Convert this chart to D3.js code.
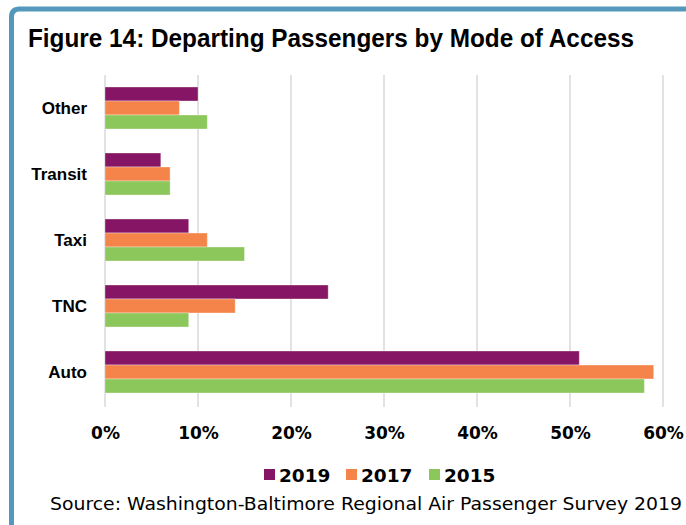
<!DOCTYPE html>
<html>
<head>
<meta charset="utf-8">
<script src="https://cdn.jsdelivr.net/npm/d3@7"></script>
<style>
  html, body { margin: 0; padding: 0; background: #ffffff; }
  svg { display: block; }
</style>
</head>
<body>
<svg id="chart" width="686" height="525"></svg>
<script>
// Modes of access, top to bottom
const categories = ["Other", "Transit", "Taxi", "TNC", "Auto"];
const seriesNames = ["2019", "2017", "2015"];
// Share of departing passengers (%) per mode
const values2019 = [10, 6, 9, 24, 51];
const values2017 = [8, 7, 11, 14, 59];
const values2015 = [11, 7, 15, 9, 58];
const tickValues = [0, 10, 20, 30, 40, 50, 60];
const colors = ["#861565", "#F5844A", "#8CC75B"];

const titleText = "Figure 14: Departing Passengers by Mode of Access";
const sourceText = "Source: Washington-Baltimore Regional Air Passenger Survey 2019";

const series = [values2019, values2017, values2015];
const rows = categories.map((c, i) => ({
  category: c,
  vals: seriesNames.map((s, k) => ({ key: s, value: series[k][i], color: colors[k] }))
}));

const svg = d3.select("#chart");

// Frame with rounded top-left corner
svg.append("path")
  .attr("d", "M11.5,525 L11.5,17 Q11.5,9 19.5,9 L686,9")
  .attr("fill", "none")
  .attr("stroke", "#5598BE")
  .attr("stroke-width", 5);

// Title
svg.append("text")
  .attr("x", 28)
  .attr("y", 47)
  .attr("textLength", 606)
  .attr("lengthAdjust", "spacingAndGlyphs")
  .style("font-family", "'Liberation Sans Narrow', 'Arial Narrow', 'Liberation Sans', sans-serif")
  .style("font-weight", "bold")
  .style("font-size", "25px")
  .attr("fill", "#000")
  .text(titleText);

const plotLeft = 105, plotRight = 663, plotTop = 75, plotBottom = 405;

const x = d3.scaleLinear().domain([0, 60]).range([plotLeft, plotRight]);
const y0 = d3.scaleBand()
  .domain(categories)
  .range([plotTop, plotBottom])
  .paddingInner(0.3636)
  .paddingOuter(0.1818);
const y1 = d3.scaleBand()
  .domain(seriesNames)
  .range([0, y0.bandwidth()])
  .padding(0);

// Vertical gridlines
svg.append("g")
  .selectAll("line")
  .data(tickValues)
  .join("line")
  .attr("x1", d => x(d))
  .attr("x2", d => x(d))
  .attr("y1", plotTop)
  .attr("y2", plotBottom + 2)
  .attr("stroke", "#d9d9d9")
  .attr("stroke-width", 1.5);

// Bars
const groups = svg.append("g")
  .selectAll("g")
  .data(rows)
  .join("g")
  .attr("transform", d => `translate(0,${y0(d.category)})`);

groups.selectAll("rect")
  .data(d => d.vals)
  .join("rect")
  .attr("x", x(0))
  .attr("y", d => y1(d.key))
  .attr("width", d => x(d.value) - x(0))
  .attr("height", y1.bandwidth())
  .attr("fill", d => d.color)
  .attr("stroke", "rgba(255,255,255,0.35)")
  .attr("stroke-width", 1);

// Category labels
svg.append("g")
  .selectAll("text")
  .data(categories)
  .join("text")
  .attr("x", 87)
  .attr("y", d => y0(d) + y0.bandwidth() / 2)
  .attr("dy", "0.35em")
  .attr("text-anchor", "end")
  .style("font-family", "'Liberation Sans', Arial, sans-serif")
  .style("font-weight", "bold")
  .style("font-size", "17px")
  .attr("fill", "#000")
  .text(d => d);

// X axis tick labels
const xAxis = d3.axisBottom(x)
  .tickValues(tickValues)
  .tickFormat(d => d + "%")
  .tickSize(0)
  .tickPadding(0);

const axisG = svg.append("g")
  .attr("transform", `translate(0,${plotBottom})`)
  .call(xAxis);
axisG.select(".domain").remove();
axisG.selectAll("text")
  .attr("y", 34)
  .attr("dy", null)
  .style("font-family", "'DejaVu Sans', sans-serif")
  .style("font-weight", "bold")
  .style("font-size", "17px")
  .attr("fill", "#000");

// Legend
const legendX = [264, 346, 429];
const legend = svg.append("g")
  .selectAll("g")
  .data(seriesNames)
  .join("g")
  .attr("transform", (d, i) => `translate(${legendX[i]},469)`);
legend.append("rect")
  .attr("width", 11)
  .attr("height", 11)
  .attr("fill", (d, i) => colors[i]);
legend.append("text")
  .attr("x", 15)
  .attr("y", 13)
  .style("font-family", "'DejaVu Sans', sans-serif")
  .style("font-weight", "bold")
  .style("font-size", "18.5px")
  .attr("fill", "#000")
  .text(d => d);

// Source note
svg.append("text")
  .attr("x", 50)
  .attr("y", 510)
  .attr("textLength", 632)
  .attr("lengthAdjust", "spacingAndGlyphs")
  .style("font-family", "'DejaVu Sans', sans-serif")
  .style("font-size", "17px")
  .attr("fill", "#000")
  .text(sourceText);
</script>
</body>
</html>
